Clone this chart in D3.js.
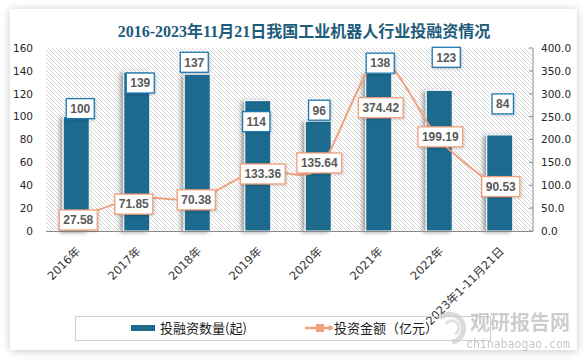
<!DOCTYPE html>
<html><head><meta charset="utf-8">
<script src="https://cdn.jsdelivr.net/npm/d3@7/dist/d3.min.js"></script>
<style>html,body{margin:0;padding:0;background:#fff;}svg{display:block;}</style>
</head><body>
<script>
const categories = ["2016年","2017年","2018年","2019年","2020年","2021年","2022年","2023年1-11月21日"];
const dealCounts = [100,139,137,114,96,138,123,84];
const dealAmounts = [27.58,71.85,70.38,133.36,135.64,374.42,199.19,90.53];
const leftTicks = [0,20,40,60,80,100,120,140,160];
const rightTicks = [0,50,100,150,200,250,300,350,400];
const title = "2016-2023年11月21日我国工业机器人行业投融资情况";
const seriesNames = ["投融资数量(起)","投资金额（亿元）"];
// manual label placement (layout, px offsets from the mark)
const barLabelOffset = [[4,-8],[3.5,11],[-3,-12],[-1.5,21],[1,-11],[1.5,-10],[7,-33],[3,-31]];
const lineLabelOffset = [[2,1.6],[-3,6],[-1,1],[5,4],[1,-6],[2,48],[1,-3],[1,-3]];

const W=587,H=361;
const svg=d3.select("body").append("svg").attr("width",W).attr("height",H);
const defs=svg.append("defs");
const f1=defs.append("filter").attr("id","cardShadow").attr("x","-10%").attr("y","-10%").attr("width","120%").attr("height","120%");
f1.append("feDropShadow").attr("dx",0).attr("dy",1).attr("stdDeviation",4).attr("flood-color","#000").attr("flood-opacity",0.22);
const f2=defs.append("filter").attr("id","barShadow").attr("x","-50%").attr("y","-10%").attr("width","200%").attr("height","120%");
f2.append("feDropShadow").attr("dx",-3).attr("dy",1).attr("stdDeviation",2).attr("flood-color","#000").attr("flood-opacity",0.35);
const f3=defs.append("filter").attr("id","lblShadow").attr("x","-20%").attr("y","-30%").attr("width","140%").attr("height","160%");
f3.append("feDropShadow").attr("dx",1).attr("dy",1).attr("stdDeviation",1).attr("flood-color","#000").attr("flood-opacity",0.2);
const pat=defs.append("pattern").attr("id","hatch").attr("patternUnits","userSpaceOnUse").attr("width",4).attr("height",4);
pat.append("rect").attr("width",4).attr("height",4).attr("fill","#fff");
pat.append("path").attr("d","M-1,-1 L5,5 M-1,3 L1,5 M3,-1 L5,1").attr("stroke","#cfcfcf").attr("stroke-width",0.9);

// card
svg.append("rect").attr("x",10).attr("y",9).attr("width",567).attr("height",341).attr("fill","#fff").attr("filter","url(#cardShadow)");

// title
svg.append("text").attr("x",304).attr("y",37).attr("text-anchor","middle")
  .attr("font-family","'Liberation Serif','Noto Sans CJK SC',serif").attr("font-weight","bold").attr("font-size",16)
  .attr("fill","#1c5b7a").text(title);

const plotL=46, plotR=531, plotT=48, plotB=231;
const x=d3.scalePoint().domain(categories).range([plotL,plotR-1]).padding(0.5);
const step=x.step();
const barW=step*0.43;
const yL=d3.scaleLinear().domain([0,160]).range([plotB,plotT]);
const yR=d3.scaleLinear().domain([0,400]).range([plotB,plotT]);

svg.append("rect").attr("x",plotL).attr("y",plotT).attr("width",plotR-plotL+1).attr("height",plotB-plotT).attr("fill","url(#hatch)");

// left axis labels
const lab={"font-family":"'DejaVu Sans',sans-serif","font-size":10.5,"fill":"#262626"};
const gL=svg.append("g");
gL.selectAll("text").data(leftTicks).join("text").attr("x",33).attr("y",d=>yL(d)).attr("dy","0.36em")
  .attr("text-anchor","end").attr("font-family",lab["font-family"]).attr("font-size",lab["font-size"]).attr("fill",lab.fill).text(d=>d);

// right axis
const gR=svg.append("g").attr("transform",`translate(533,0)`);
const axR=d3.axisRight(yR).tickValues(rightTicks).tickSize(0).tickFormat(d3.format(".1f"));
gR.call(axR);
gR.select(".domain").remove();
gR.selectAll(".tick text").attr("x",8).attr("font-family",lab["font-family"]).attr("font-size",lab["font-size"]).attr("fill",lab.fill);
gR.append("line").attr("x1",0).attr("x2",0).attr("y1",plotT).attr("y2",plotB).attr("stroke","#8c8c8c");
gR.selectAll(".tickmark").data(rightTicks).join("line").attr("x1",-4).attr("x2",0).attr("y1",d=>yR(d)).attr("y2",d=>yR(d)).attr("stroke","#8c8c8c");

// bars
svg.append("g").selectAll("rect").data(dealCounts).join("rect")
  .attr("x",(d,i)=>x(categories[i])-barW/2).attr("y",d=>yL(d)).attr("width",barW).attr("height",d=>plotB-yL(d))
  .attr("fill","#1e6b8e").attr("stroke","#fff").attr("stroke-width",1).attr("filter","url(#barShadow)");

// baseline
svg.append("line").attr("x1",plotL).attr("x2",533).attr("y1",plotB+0.5).attr("y2",plotB+0.5).attr("stroke","#8c8c8c").attr("stroke-width",1);

// x labels
svg.append("g").selectAll("text").data(categories).join("text")
  .attr("transform",d=>`translate(${x(d)+2},${249}) rotate(-45)`).attr("text-anchor","end").attr("dy","0.35em")
  .attr("font-family","'DejaVu Sans','Noto Sans CJK SC',sans-serif").attr("font-size",11.5).attr("fill","#333").text(d=>d);

// line
const lineColor="#f0a07c";
const line=d3.line().x((d,i)=>x(categories[i])).y(d=>yR(d)).curve(d3.curveCardinal.tension(0.2));
svg.append("path").datum(dealAmounts).attr("d",line).attr("fill","none").attr("stroke",lineColor).attr("stroke-width",2);

// labels
function drawLabel(g,cx,cy,txt,border){
  const t=g.append("text").attr("x",cx).attr("y",cy).attr("dy","0.36em").attr("text-anchor","middle")
    .attr("font-family","'Liberation Sans',Arial,sans-serif").attr("font-weight","bold").attr("font-size",12).attr("fill","#595959").text(txt);
  const w=t.node().getComputedTextLength();
  g.insert("rect","text").attr("x",cx-w/2-4).attr("y",cy-10).attr("width",w+8).attr("height",20)
    .attr("fill","#fff").attr("stroke",border).attr("stroke-width",1.3).attr("filter","url(#lblShadow)");
}
const gLab=svg.append("g");
dealCounts.forEach((d,i)=>{
  const g=gLab.append("g");
  drawLabel(g,x(categories[i])+barLabelOffset[i][0],yL(d)+barLabelOffset[i][1],String(d),"#1f7ab0");
});
dealAmounts.forEach((d,i)=>{
  const g=gLab.append("g");
  drawLabel(g,x(categories[i])+lineLabelOffset[i][0],yR(d)+lineLabelOffset[i][1],d.toFixed(2),lineColor);
});

// legend
const lg=svg.append("g");
lg.append("rect").attr("x",75.5).attr("y",316.5).attr("width",415).attr("height",24).attr("fill","none").attr("stroke","#d0d0d0");
lg.append("rect").attr("x",131).attr("y",325).attr("width",24).attr("height",6).attr("fill","#1e6b8e");
lg.append("text").attr("x",160).attr("y",328).attr("dy","0.36em").attr("font-family","'Noto Sans CJK SC',sans-serif").attr("font-size",13).attr("fill","#1a1a1a").text(seriesNames[0]);
lg.append("line").attr("x1",305).attr("x2",333).attr("y1",328).attr("y2",328).attr("stroke",lineColor).attr("stroke-width",2.5);
lg.append("rect").attr("x",316).attr("y",324).attr("width",8).attr("height",8).attr("fill",lineColor);
lg.append("path").attr("d","M330,325 L333,328 L330,331 L327,328 Z").attr("fill",lineColor);
lg.append("text").attr("x",334).attr("y",328).attr("dy","0.36em").attr("font-family","'Noto Sans CJK SC',sans-serif").attr("font-size",13).attr("fill","#1a1a1a").text(seriesNames[1]);

// watermark
const wm=svg.append("g").attr("opacity",0.75);
wm.append("path").attr("d","M440,318 A14,14 0 1,1 452,342").attr("fill","none").attr("stroke","#cfcfcf").attr("stroke-width",5);
wm.append("path").attr("d","M446,324 A7,7 0 1,1 455,334").attr("fill","none").attr("stroke","#d8d8d8").attr("stroke-width",3);
wm.append("text").attr("x",470).attr("y",330).attr("font-family","'Noto Sans CJK SC',sans-serif").attr("font-weight","bold").attr("font-size",20).attr("fill","#bdbdbd").text("观研报告网");
wm.append("text").attr("x",466).attr("y",348).attr("font-family","'DejaVu Sans Mono',monospace").attr("font-size",11.5).attr("fill","#b5b5b5").text("chinabaogao.com");
</script>
</body></html>
